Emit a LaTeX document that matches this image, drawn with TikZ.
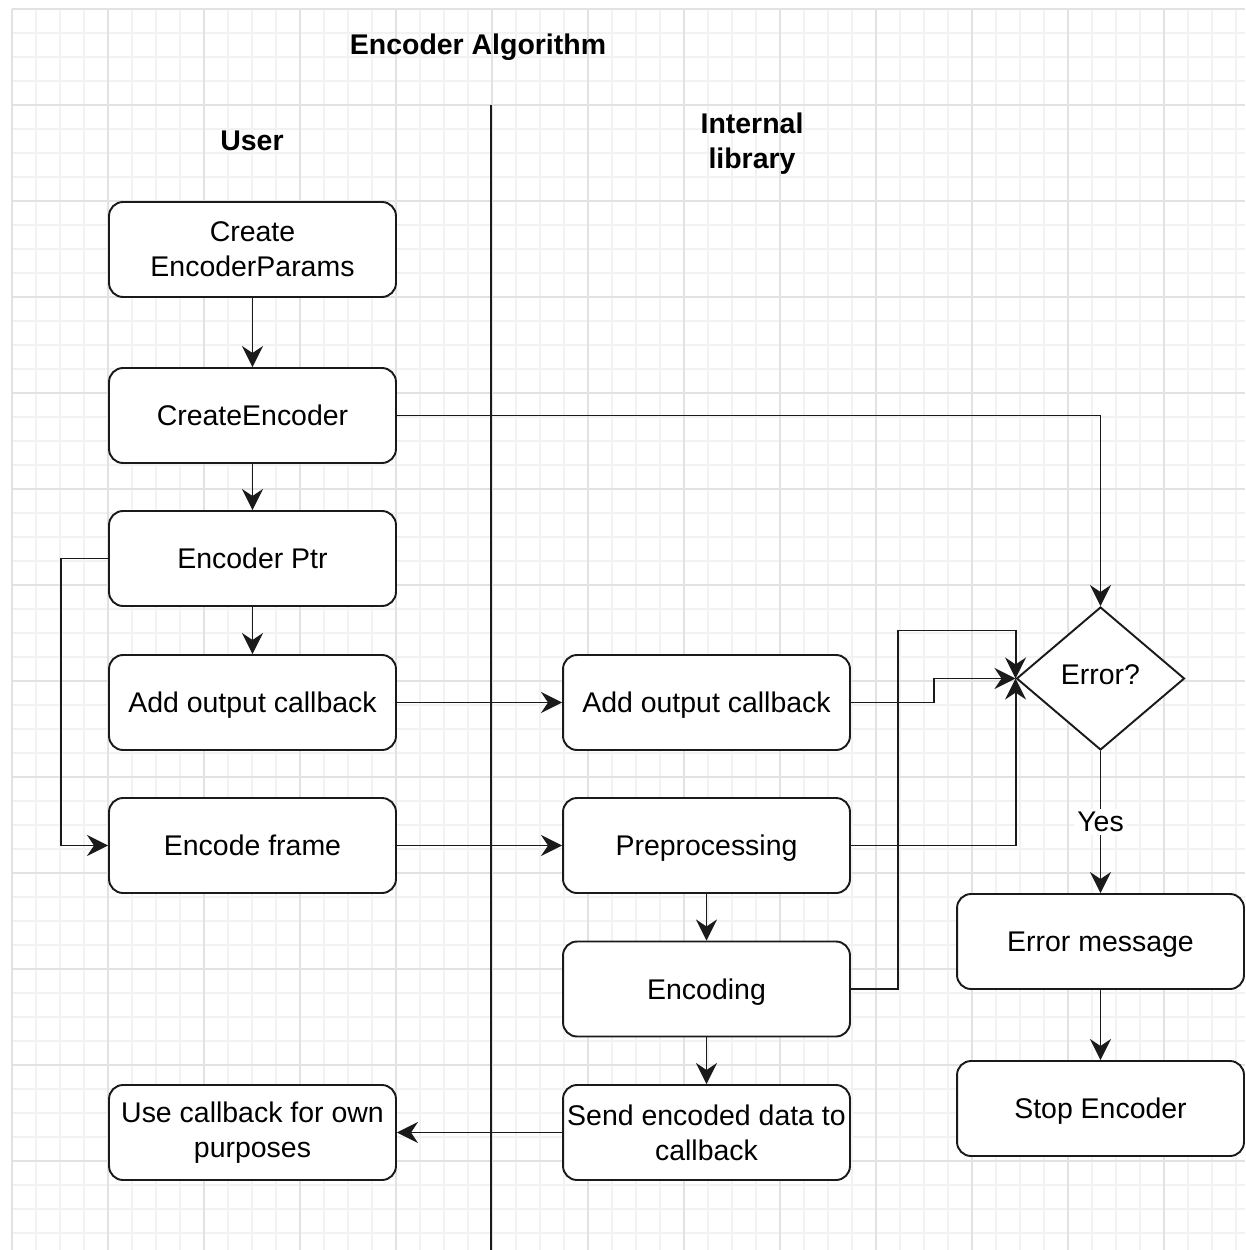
\documentclass[tikz,border=0pt]{standalone}
\usepackage{fontspec}
\setmainfont{Liberation Sans}
\usetikzlibrary{shapes.geometric,arrows.meta}
\definecolor{gminor}{HTML}{F2F2F2}
\definecolor{gmajor}{HTML}{E2E2E2}
\definecolor{vdark}{HTML}{1A1A1A}

\begin{document}
\begin{tikzpicture}[x=0.02cm, y=-0.02cm,
		boxbase/.style={draw=vdark, line width=1.1pt, rounded corners=0.28cm, fill=white,
			minimum width=5.74cm, minimum height=1.9cm, inner sep=1pt, align=center,
			font=\fontsize{16.2}{19.9}\selectfont},
		stepbox/.style={boxbase, text height=14pt, text depth=2.6pt},
		twoline/.style={boxbase},
		decision/.style={draw=vdark, line width=1.1pt, diamond, fill=white, inner sep=0pt,
			minimum width=3.36cm, minimum height=2.86cm, text height=11.7pt, text depth=5pt,
			font=\fontsize{16.2}{19.9}\selectfont},
		header/.style={align=center, font=\bfseries\fontsize{16.2}{19.9}\selectfont},
		flow/.style={draw=vdark, line width=1.1pt, -{Stealth[length=12pt, width=12pt, inset=4pt]}},
		lane/.style={draw=vdark, line width=1.1pt}]
		\useasboundingbox (0,0) rectangle (1245,1250);
		% grid
		\foreach \i in {0,...,51} {
			\draw[gminor, line width=0.6pt] ({12+24*\i},9) -- ({12+24*\i},1250);
			\draw[gminor, line width=0.6pt] (12,{9+24*\i}) -- (1245,{9+24*\i});
		}
		\foreach \i in {0,...,12} {
			\draw[gmajor, line width=0.7pt] ({12+96*\i},9) -- ({12+96*\i},1250);
			\draw[gmajor, line width=0.7pt] (12,{9+96*\i}) -- (1245,{9+96*\i});
		}
		% headers and lanes
		\node[header, text height=14pt, text depth=2.6pt] (title) at (478,44) {Encoder Algorithm};
		\node[header, text height=14pt, text depth=2.6pt] (user) at (252,140.5) {User};
		\node[header] (internal) at (752,144) {Internal\\library};
		\draw[lane] (491,105) -- (491,1250);
		% user side
		\node[twoline] (cparams) at (252.5,249.5) {Create\\EncoderParams};
		\node[stepbox] (cencoder) at (252.5,415.5) {CreateEncoder};
		\node[stepbox] (encptr) at (252.5,558.5) {Encoder Ptr};
		\node[stepbox] (uaddcb) at (252.5,702.5) {Add output callback};
		\node[stepbox] (encframe) at (252.5,845.5) {Encode frame};
		\node[twoline] (usecb) at (252.5,1132.5) {Use callback for own\\purposes};
		% internal side
		\node[stepbox] (iaddcb) at (706.5,702.5) {Add output callback};
		\node[stepbox] (preproc) at (706.5,845.5) {Preprocessing};
		\node[stepbox] (encoding) at (706.5,989) {Encoding};
		\node[twoline] (sendcb) at (706.5,1132.5) {Send encoded data to\\callback};
		\node[decision] (errq) at (1100.5,678.5) {Error?};
		\node[stepbox] (errmsg) at (1100.5,941.5) {Error message};
		\node[stepbox] (stopenc) at (1100.5,1108.5) {Stop Encoder};
		% connectors
		\draw[flow] (cparams) -- (cencoder);
		\draw[flow] (cencoder) -- (encptr);
		\draw[flow] (encptr) -- (uaddcb);
		\draw[flow] (cencoder.east) -| (errq.north);
		\draw[flow] (encptr.west) -- ++(-47,0) |- (encframe.west);
		\draw[flow] (uaddcb) -- (iaddcb);
		\draw[flow] (encframe) -- (preproc);
		\draw[flow] (iaddcb.east) -- ++(83,0) |- (errq.west);
		\draw[flow] (preproc.east) -| (errq.west);
		\draw[flow] (encoding.east) -- ++(47,0) |- ([yshift=0.96cm]errq.west) -- (errq.west);
		\draw[flow] (preproc) -- (encoding);
		\draw[flow] (encoding) -- (sendcb);
		\draw[flow] (sendcb) -- (usecb);
		\draw[flow] (errq) -- node[fill=white, inner sep=2pt, font=\fontsize{16.2}{19.9}\selectfont] {Yes} (errmsg);
		\draw[flow] (errmsg) -- (stopenc);
	\end{tikzpicture}
\end{document}
